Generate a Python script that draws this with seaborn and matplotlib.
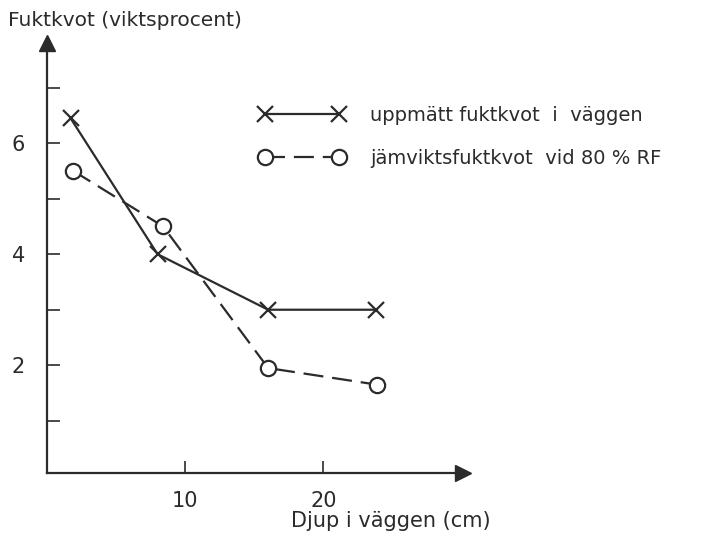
import matplotlib
matplotlib.use("Agg")
import matplotlib.pyplot as plt
import seaborn as sns

# ---------------------------------------------------------------
# DATA
# ---------------------------------------------------------------
depth_measured = [1.7, 8.0, 16.0, 23.8]
moisture_measured = [6.45, 4.0, 3.0, 3.0]

depth_equilibrium = [1.9, 8.4, 16.0, 23.9]
moisture_equilibrium = [5.5, 4.5, 1.95, 1.65]

x_ticks = [10, 20]
y_ticks = [2, 4, 6]
y_minor = [1, 3, 5, 7]

label_measured = "uppmätt fuktkvot  i  väggen"
label_equilibrium = "jämviktsfuktkvot  vid 80 % RF"

# ---------------------------------------------------------------
# SETUP
# ---------------------------------------------------------------
sns.set_style("ticks")
plt.rcParams['font.family'] = ['DejaVu Sans']
plt.rcParams['font.size'] = 14

INK = "#2b2b2b"

fig = plt.figure(figsize=(7.05, 5.34), dpi=100)
ax = fig.add_axes([0.0667, 0.1142, 0.59, 0.805])

sns.lineplot(x=depth_measured, y=moisture_measured, ax=ax, color=INK,
             linewidth=1.6, marker='x', markersize=11, markeredgewidth=1.6,
             markeredgecolor=INK, label=label_measured)
sns.lineplot(x=depth_equilibrium, y=moisture_equilibrium, ax=ax, color=INK,
             linewidth=1.6, marker='o', markersize=11,
             markerfacecolor='white', markeredgecolor=INK, markeredgewidth=1.6,
             label=label_equilibrium)
ax.lines[1].set_dashes((9, 4))

ax.set_xlim(0, 30.1)
ax.set_ylim(0.06, 7.8)

for side in ['top', 'right']:
    ax.spines[side].set_visible(False)
for side in ['left', 'bottom']:
    ax.spines[side].set_color(INK)
    ax.spines[side].set_linewidth(1.6)

# arrow heads on the axes
ax.plot(1, 0.06, marker='>', markersize=11, color=INK, transform=ax.get_yaxis_transform(),
        clip_on=False)
ax.plot(0, 1, marker='^', markersize=11, color=INK, transform=ax.get_xaxis_transform(),
        clip_on=False)

ax.set_xticks(x_ticks)
ax.set_xticklabels([str(v) for v in x_ticks])
ax.set_yticks(y_ticks)
ax.set_yticklabels([str(v) for v in y_ticks])
ax.set_yticks(y_minor, minor=True)
ax.tick_params(axis='both', which='both', direction='in', length=9, width=1.2,
               colors=INK, labelsize=15)
ax.tick_params(axis='y', which='major', pad=16)
ax.tick_params(axis='x', which='major', pad=13)

fig.text(0.011, 0.962, "Fuktkvot (viktsprocent)", fontsize=14.5, color=INK,
         ha='left', va='center')
fig.text(0.555, 0.024, "Djup i väggen (cm)", fontsize=15, color=INK,
         ha='center', va='center')

leg = ax.legend(loc='upper left', bbox_to_anchor=(0.343, 0.835),
                bbox_transform=fig.transFigure, frameon=False, numpoints=2,
                handlelength=4.4, handletextpad=1.3, labelspacing=1.25,
                fontsize=14)
for t in leg.get_texts():
    t.set_color(INK)

plt.savefig("out.png", dpi=100)
plt.close()
